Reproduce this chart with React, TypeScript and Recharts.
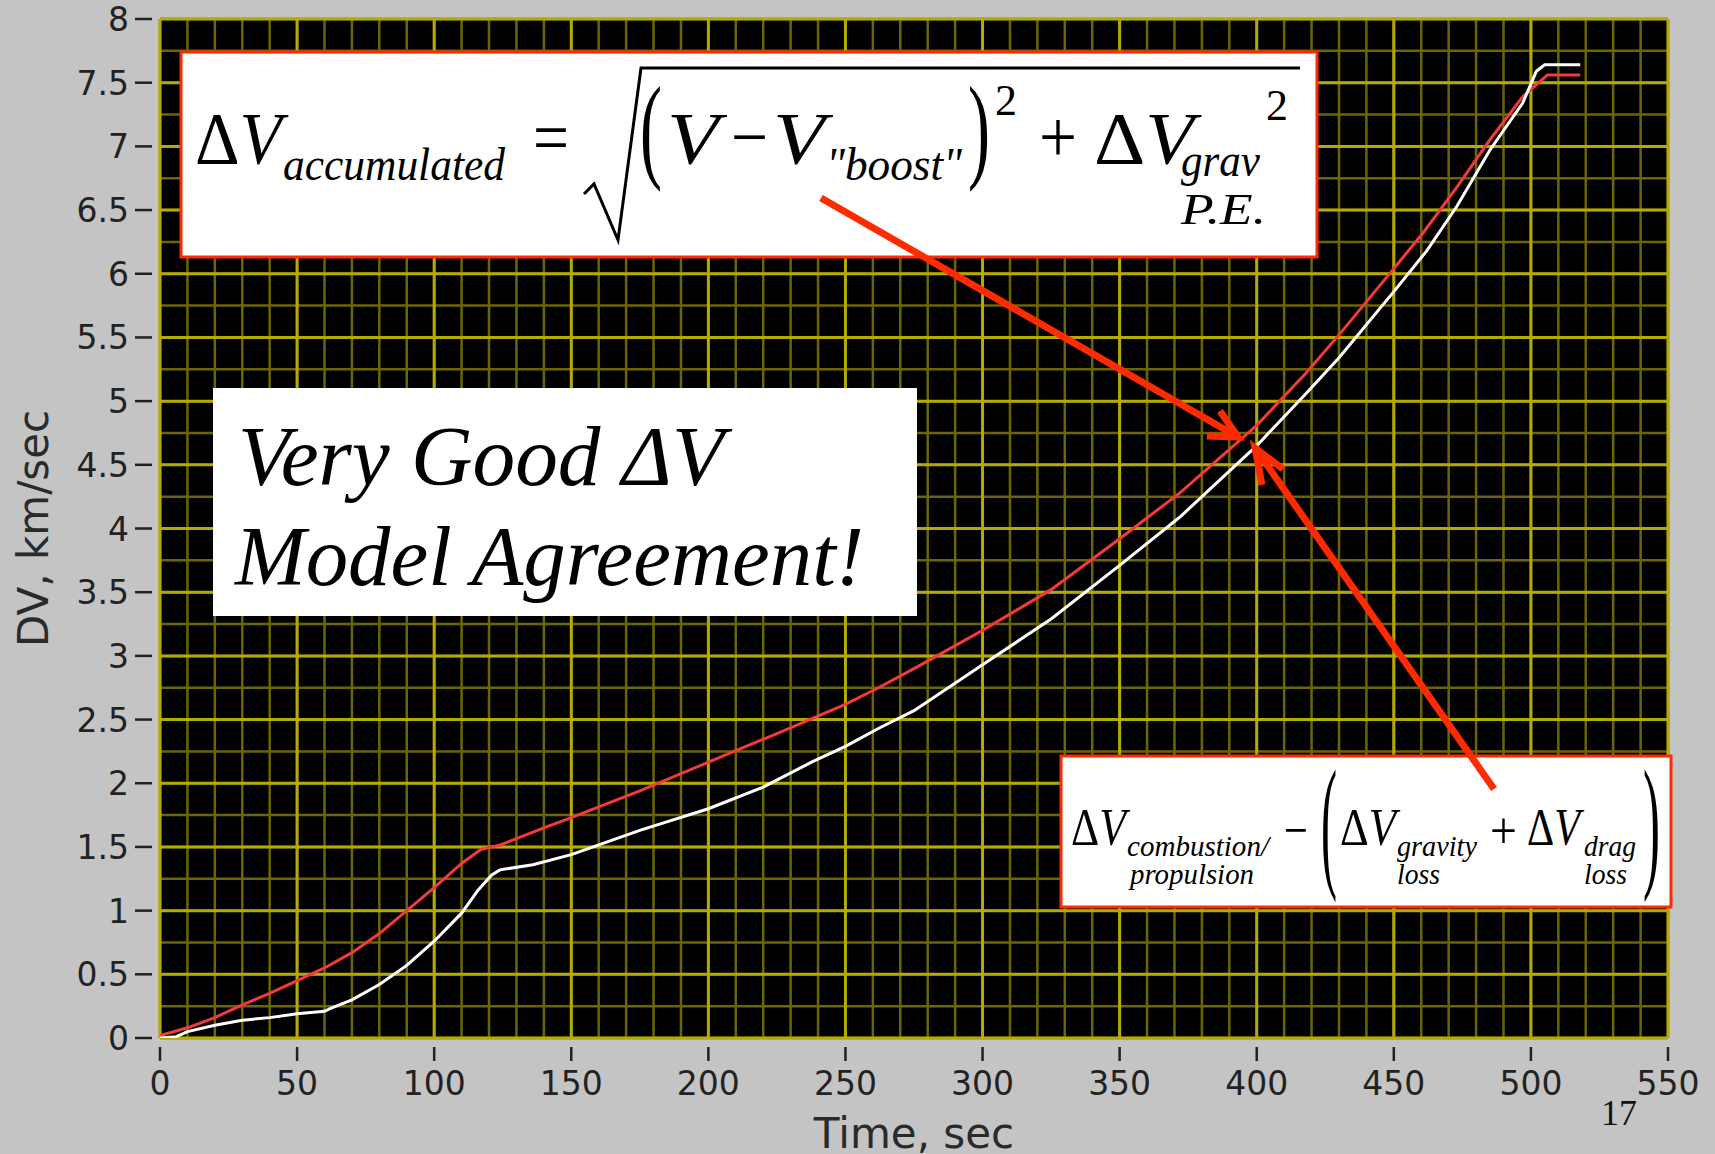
import React from 'react';
import { LineChart, Line, XAxis, YAxis, CartesianGrid } from 'recharts';

// Accumulated ΔV from the sqrt model (red): time in sec, ΔV in km/sec
const modelTime = [0, 10, 20, 30, 40, 50, 60, 70, 80, 90, 100, 110, 117, 124, 130, 140, 150, 175, 200, 225, 238, 250, 262, 275, 300, 325, 350, 372, 400, 418, 430, 450, 461, 473, 485, 497, 506, 518];
const modelDv = [0.02, 0.08, 0.16, 0.26, 0.35, 0.45, 0.55, 0.67, 0.82, 1.0, 1.18, 1.37, 1.48, 1.515, 1.565, 1.65, 1.73, 1.94, 2.165, 2.39, 2.51, 2.62, 2.75, 2.9, 3.2, 3.52, 3.92, 4.28, 4.81, 5.22, 5.52, 6.04, 6.33, 6.68, 7.05, 7.39, 7.56, 7.56];

// Combustion ΔV minus gravity and drag losses (white)
const lossTime = [0, 6, 10, 20, 30, 40, 50, 60, 62, 70, 80, 90, 100, 110, 116, 121, 124, 136, 150, 175, 200, 220, 238, 250, 262, 275, 300, 325, 350, 372, 400, 418, 430, 450, 462, 473, 485, 497, 502, 505, 518];
const lossDv = [0, 0.01, 0.05, 0.1, 0.14, 0.16, 0.19, 0.21, 0.23, 0.3, 0.42, 0.57, 0.76, 0.98, 1.16, 1.28, 1.32, 1.36, 1.44, 1.63, 1.8, 1.97, 2.17, 2.29, 2.43, 2.57, 2.93, 3.29, 3.71, 4.09, 4.65, 5.06, 5.34, 5.86, 6.18, 6.53, 6.97, 7.34, 7.59, 7.64, 7.64];

const xTicks = [0, 50, 100, 150, 200, 250, 300, 350, 400, 450, 500, 550];
const yTicks = [0, 0.5, 1, 1.5, 2, 2.5, 3, 3.5, 4, 4.5, 5, 5.5, 6, 6.5, 7, 7.5, 8];
const xMinorStep = 10;
const yMinorStep = 0.25;

const xMinor: number[] = [];
for (let t = 0; t <= 550; t += xMinorStep) xMinor.push(t);
const yMinor: number[] = [];
for (let v = 0; v <= 8; v += yMinorStep) yMinor.push(v);

const modelData = modelTime.map((t, i) => ({ t, v: modelDv[i] }));
const lossData = lossTime.map((t, i) => ({ t, v: lossDv[i] }));

const W = 1715;
const H = 1154;
const SANS = '"DejaVu Sans", Verdana, sans-serif';
const SERIF = '"Liberation Serif", "Times New Roman", serif';
const RED = '#ff2a00';

const XTick = ({ x, y, payload }: any) => (
    <g>
        <line x1={x} x2={x} y1={y + 9} y2={y + 23} stroke="#222" strokeWidth={2.5} />
        <text x={x} y={y + 57} textAnchor="middle" fontFamily={SANS} fontSize={33} fill="#222">
            {payload.value}
        </text>
    </g>
);

const YTick = ({ x, y, payload }: any) => (
    <g>
        <line x1={x - 25} x2={x - 8} y1={y} y2={y} stroke="#222" strokeWidth={2.5} />
        <text x={x - 31} y={y + 12} textAnchor="end" fontFamily={SANS} fontSize={33} fill="#222">
            {payload.value}
        </text>
    </g>
);

const XTitle = (props: any) => {
    const vb = props.viewBox || { x: 160, y: 1038, width: 1508, height: 116 };
    return (
        <text x={vb.x + vb.width / 2} y={vb.y + 110} textAnchor="middle" fontFamily={SANS} fontSize={42} fill="#2a2a2a">
            Time, sec
        </text>
    );
};

const YTitle = (props: any) => {
    const vb = props.viewBox || { x: 0, y: 19, width: 160, height: 1019 };
    const cx = vb.x + 48;
    const cy = vb.y + vb.height / 2;
    return (
        <text x={cx} y={cy} transform={`rotate(-90 ${cx} ${cy})`} textAnchor="middle" fontFamily={SANS} fontSize={42} fill="#2a2a2a">
            DV, km/sec
        </text>
    );
};

// minor grid lines placed through the axis scales
const minorX = ({ xAxis, offset }: any) =>
    xMinor.map((t) => (xAxis && typeof xAxis.scale === 'function' ? xAxis.scale(t) : offset.left + (t / 550) * offset.width));
const minorY = ({ yAxis, offset }: any) =>
    yMinor.map((v) => (yAxis && typeof yAxis.scale === 'function' ? yAxis.scale(v) : offset.top + (1 - v / 8) * offset.height));

const Arrow = ({ d }: { d: string }) => (
    <path d={d} fill="none" stroke={RED} strokeWidth={7} strokeLinejoin="miter" />
);

const Annotations = () => (
    <svg width={W} height={H} style={{ position: 'absolute', left: 0, top: 0, pointerEvents: 'none' }}>
        {/* accumulated ΔV formula */}
        <rect x={181} y={52} width={1136} height={205} fill="#fff" stroke={RED} strokeWidth={3} />
        <g fontFamily={SERIF} fill="#000">
            <text x={195} y={164} fontSize={74} textLength={87} lengthAdjust="spacingAndGlyphs">
                Δ<tspan fontStyle="italic">V</tspan>
            </text>
            <text x={283} y={180} fontSize={46} fontStyle="italic" textLength={222} lengthAdjust="spacingAndGlyphs">accumulated</text>
            <text x={533} y={162} fontSize={74} textLength={36} lengthAdjust="spacingAndGlyphs">=</text>
            <path d="M584 194 L594 184 L618 240 L641 68 L1300 68" fill="none" stroke="#000" strokeWidth={3} />
            <text x={640} y={167} fontSize={117} textLength={22} lengthAdjust="spacingAndGlyphs">(</text>
            <text x={667} y={164} fontSize={74} fontStyle="italic" textLength={52} lengthAdjust="spacingAndGlyphs">V</text>
            <text x={731} y={162} fontSize={74} textLength={37} lengthAdjust="spacingAndGlyphs">−</text>
            <text x={773} y={164} fontSize={74} fontStyle="italic" textLength={52} lengthAdjust="spacingAndGlyphs">V</text>
            <text x={826} y={180} fontSize={46} fontStyle="italic" textLength={136} lengthAdjust="spacingAndGlyphs">"boost"</text>
            <text x={968} y={167} fontSize={117} textLength={22} lengthAdjust="spacingAndGlyphs">)</text>
            <text x={995} y={115} fontSize={44} textLength={22} lengthAdjust="spacingAndGlyphs">2</text>
            <text x={1039} y={162} fontSize={74} textLength={38} lengthAdjust="spacingAndGlyphs">+</text>
            <text x={1094} y={164} fontSize={74} textLength={100} lengthAdjust="spacingAndGlyphs">
                Δ<tspan fontStyle="italic">V</tspan>
            </text>
            <text x={1181} y={176} fontSize={46} fontStyle="italic" textLength={79} lengthAdjust="spacingAndGlyphs">grav</text>
            <text x={1181} y={224} fontSize={44} fontStyle="italic" textLength={85} lengthAdjust="spacingAndGlyphs">P.E.</text>
            <text x={1266} y={120} fontSize={44} textLength={22} lengthAdjust="spacingAndGlyphs">2</text>
        </g>

        {/* headline */}
        <rect x={213} y={388} width={704} height={228} fill="#fff" />
        <g fontFamily={SERIF} fontStyle="italic" fontSize={84} fill="#000">
            <text x={238} y={485} textLength={486} lengthAdjust="spacingAndGlyphs">Very Good ΔV</text>
            <text x={235} y={585} textLength={629} lengthAdjust="spacingAndGlyphs">Model Agreement!</text>
        </g>

        {/* combustion minus losses formula */}
        <rect x={1061} y={756} width={610} height={151} fill="#fff" stroke={RED} strokeWidth={3} />
        <g fontFamily={SERIF} fill="#000">
            <text x={1071} y={845} fontSize={53} textLength={55} lengthAdjust="spacingAndGlyphs">
                Δ<tspan fontStyle="italic">V</tspan>
            </text>
            <text x={1127} y={856} fontSize={30} fontStyle="italic" textLength={142} lengthAdjust="spacingAndGlyphs">combustion/</text>
            <text x={1130} y={884} fontSize={30} fontStyle="italic" textLength={124} lengthAdjust="spacingAndGlyphs">propulsion</text>
            <text x={1284} y={848} fontSize={53} textLength={24} lengthAdjust="spacingAndGlyphs">−</text>
            <text x={1321} y={871} fontSize={146} textLength={16} lengthAdjust="spacingAndGlyphs">(</text>
            <text x={1340} y={845} fontSize={53} textLength={56} lengthAdjust="spacingAndGlyphs">
                Δ<tspan fontStyle="italic">V</tspan>
            </text>
            <text x={1397} y={856} fontSize={30} fontStyle="italic" textLength={80} lengthAdjust="spacingAndGlyphs">gravity</text>
            <text x={1397} y={884} fontSize={30} fontStyle="italic" textLength={43} lengthAdjust="spacingAndGlyphs">loss</text>
            <text x={1490} y={848} fontSize={53} textLength={27} lengthAdjust="spacingAndGlyphs">+</text>
            <text x={1527} y={845} fontSize={53} textLength={53} lengthAdjust="spacingAndGlyphs">
                Δ<tspan fontStyle="italic">V</tspan>
            </text>
            <text x={1584} y={856} fontSize={30} fontStyle="italic" textLength={52} lengthAdjust="spacingAndGlyphs">drag</text>
            <text x={1584} y={884} fontSize={30} fontStyle="italic" textLength={43} lengthAdjust="spacingAndGlyphs">loss</text>
            <text x={1643} y={871} fontSize={146} textLength={17} lengthAdjust="spacingAndGlyphs">)</text>
        </g>

        {/* pointers from each formula to its curve */}
        <Arrow d="M821 198 L1238 437 M1220 411 L1238 437 L1207 436" />
        <Arrow d="M1494 789 L1255 448 M1262 485 L1255 448 L1283 469" />

        <text x={1601} y={1125} fontFamily={SERIF} fontSize={36} fill="#111">17</text>
    </svg>
);

export default function App() {
    return (
        <div style={{ position: 'absolute', left: 0, top: 0, width: W, height: H, background: '#c4c4c4', overflow: 'hidden' }}>
            <LineChart width={W} height={H} margin={{ top: 19, right: 47, bottom: 0, left: 0 }}>
                <CartesianGrid
                    fill="#000"
                    fillOpacity={1}
                    stroke="#6c6600"
                    strokeWidth={2.5}
                    verticalCoordinatesGenerator={minorX}
                    horizontalCoordinatesGenerator={minorY}
                />
                <CartesianGrid stroke="#b4aa00" strokeWidth={3} />
                <XAxis
                    type="number"
                    dataKey="t"
                    domain={[0, 550]}
                    ticks={xTicks}
                    interval={0}
                    allowDataOverflow
                    height={116}
                    axisLine={false}
                    tickLine={false}
                    tickSize={0}
                    tickMargin={0}
                    tick={<XTick />}
                    label={<XTitle />}
                />
                <YAxis
                    type="number"
                    dataKey="v"
                    domain={[0, 8]}
                    ticks={yTicks}
                    interval={0}
                    allowDataOverflow
                    width={160}
                    axisLine={false}
                    tickLine={false}
                    tickSize={0}
                    tickMargin={0}
                    tick={<YTick />}
                    label={<YTitle />}
                />
                <Line data={modelData} dataKey="v" type="linear" stroke="#f23a3a" strokeWidth={3} dot={false} isAnimationActive={false} />
                <Line data={lossData} dataKey="v" type="linear" stroke="#ffffff" strokeWidth={3} dot={false} isAnimationActive={false} />
            </LineChart>
            <Annotations />
        </div>
    );
}
